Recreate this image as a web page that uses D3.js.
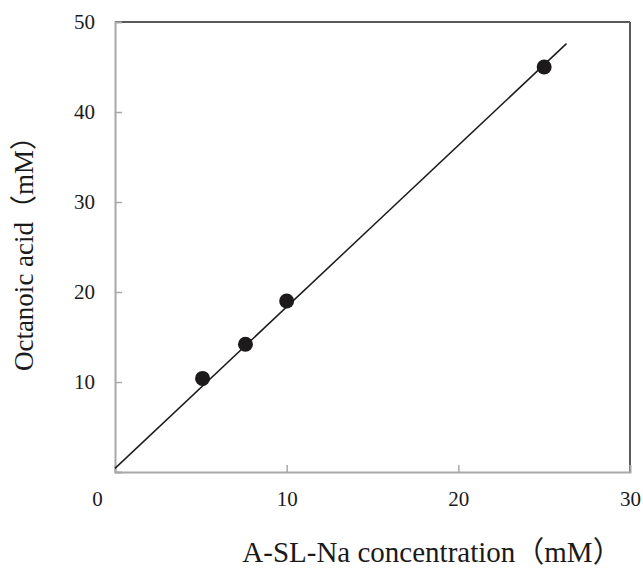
<!DOCTYPE html>
<html lang="en">
<head>
	<meta charset="UTF-8">
	<title>Octanoic acid vs A-SL-Na</title>
	<script src="https://d3js.org/d3.v7.min.js"></script>
	<style>
		body{
			margin: 0;
			background: #fff;
			font-family: "Liberation Serif", "Noto Sans CJK JP", serif;
		}
		svg{
			display: block;
		}
	</style>
</head>
<body>
	<div id="chart"></div>
	<script>
		// data
		var concentration = [5.1, 7.6, 10, 25];
		var octanoic = [10.4, 14.2, 19, 45];
		var fitX = [0, 26.3];
		var fitY = [0.4, 47.6];
		var xTicks = [0, 10, 20, 30];
		var yTicks = [10, 20, 30, 40, 50];

		var width = 643;
		var height = 568;
		var margin = {left: 115, right: 13, top: 22, bottom: 96};
		var plotW = width - margin.left - margin.right;
		var plotH = height - margin.top - margin.bottom;

		var canvas = d3.select('#chart').append('svg')
			.attr('width', width)
			.attr('height', height);

		var g = canvas.append('g')
			.attr('transform', 'translate(' + margin.left + ',' + margin.top + ')');

		var xScale = d3.scaleLinear().domain([0, 30]).range([0, plotW]);
		var yScale = d3.scaleLinear().domain([0, 50]).range([plotH, 0]);

		// frame: top and right darker
		g.append('line')
			.attr('x1', 0).attr('x2', plotW)
			.attr('y1', 0).attr('y2', 0)
			.attr('stroke', '#5a5a5a').attr('stroke-width', 2);
		g.append('line')
			.attr('x1', plotW).attr('x2', plotW)
			.attr('y1', 0).attr('y2', plotH)
			.attr('stroke', '#5a5a5a').attr('stroke-width', 2);

		//axes with inward ticks
		var xAxis = d3.axisBottom(xScale).tickValues(xTicks).tickSize(-7).tickPadding(19);
		var yAxis = d3.axisLeft(yScale).tickValues(yTicks).tickSize(-7).tickPadding(20);

		var gx = g.append('g')
			.attr('transform', 'translate(0,' + plotH + ')')
			.call(xAxis);
		var gy = g.append('g').call(yAxis);

		[gx, gy].forEach(function(ax){
			ax.select('.domain').attr('stroke', '#a8a8a8').attr('stroke-width', 2);
			ax.selectAll('.tick line').attr('stroke', '#a8a8a8').attr('stroke-width', 1.5);
			ax.selectAll('.tick text')
				.attr('fill', '#1a1a1a')
				.style('font-family', '"Liberation Serif", serif')
				.style('font-size', '21px');
		});
		// hide ticks at ends
		gx.selectAll('.tick line').filter(function(d){ return d === 0 || d === 30; }).remove();
		gy.selectAll('.tick line').filter(function(d){ return d === 50; }).remove();
		gx.selectAll('.tick text').filter(function(d){ return d === 0; }).attr('dx', -18);

		// fitted line
		g.append('line')
			.attr('x1', xScale(fitX[0])).attr('y1', yScale(fitY[0]))
			.attr('x2', xScale(fitX[1])).attr('y2', yScale(fitY[1]))
			.attr('stroke', '#1a1a1a').attr('stroke-width', 1.5);

		g.selectAll('circle')
			.data(concentration)
			.enter()
			.append('circle')
			.attr('cx', function(d){ return xScale(d); })
			.attr('cy', function(d, i){ return yScale(octanoic[i]); })
			.attr('r', 7.5)
			.attr('fill', '#1c1a1a');

		canvas.append('text')
			.attr('x', 432)
			.attr('y', 562)
			.attr('text-anchor', 'middle')
			.attr('fill', '#1a1a1a')
			.style('font-size', '29px')
			.text('A-SL-Na concentration（mM）');

		canvas.append('text')
			.attr('transform', 'translate(33,247) rotate(-90)')
			.attr('text-anchor', 'middle')
			.attr('fill', '#1a1a1a')
			.style('font-size', '27px')
			.text('Octanoic acid（mM）');
	</script>
</body>
</html>
